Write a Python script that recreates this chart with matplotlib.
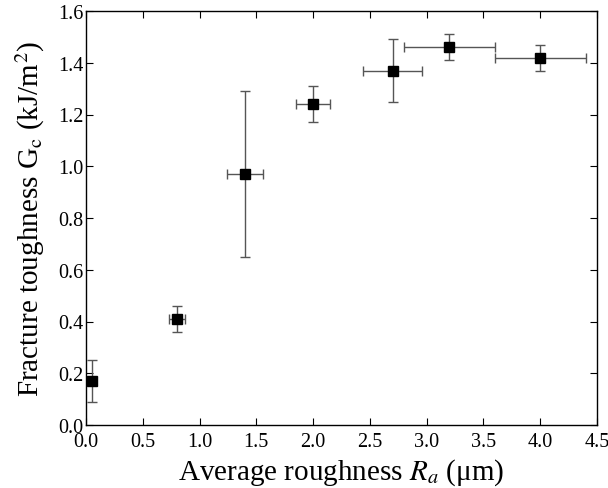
import matplotlib
matplotlib.use("Agg")
import matplotlib.pyplot as plt

plt.rcParams['font.family'] = ['Liberation Serif', 'DejaVu Serif']
plt.rcParams['mathtext.fontset'] = 'stix'

roughness = [0.05, 0.8, 1.4, 2.0, 2.7, 3.2, 4.0]
roughness_err = [0.0, 0.07, 0.16, 0.15, 0.26, 0.40, 0.40]
toughness = [0.17, 0.41, 0.97, 1.24, 1.37, 1.46, 1.42]
toughness_err = [0.08, 0.05, 0.32, 0.07, 0.12, 0.05, 0.05]

fig = plt.figure(figsize=(6.08, 4.89), dpi=100)
ax = fig.add_axes([86/608, 1 - 426/489, (597-86)/608, (426-12)/489])

ax.errorbar(roughness, toughness, xerr=roughness_err, yerr=toughness_err,
            fmt='s', color='black', ms=6.5, ecolor='#555555', elinewidth=1.0,
            capsize=3.5, capthick=1.0)

ax.set_xlim(0, 4.5)
ax.set_ylim(0, 1.6)
ax.set_xticks([0.0, 0.5, 1.0, 1.5, 2.0, 2.5, 3.0, 3.5, 4.0, 4.5])
ax.set_yticks([0.0, 0.2, 0.4, 0.6, 0.8, 1.0, 1.2, 1.4, 1.6])
ax.xaxis.set_major_formatter(matplotlib.ticker.FormatStrFormatter('%.1f'))
ax.yaxis.set_major_formatter(matplotlib.ticker.FormatStrFormatter('%.1f'))
ax.tick_params(direction='in', top=True, right=True, labelsize=14.5, length=5, width=0.8)
ax.tick_params(axis='x', pad=5)
ax.tick_params(axis='y', pad=2)
for s in ax.spines.values():
    s.set_linewidth(1.0)

ax.set_xlabel('Average roughness $R_a$ (μm)', fontsize=21, labelpad=4)
ax.set_ylabel('Fracture toughness G$_\\mathrm{c}$ (kJ/m$^2$)', fontsize=21, labelpad=8)

fig.savefig('out.png', dpi=100)
